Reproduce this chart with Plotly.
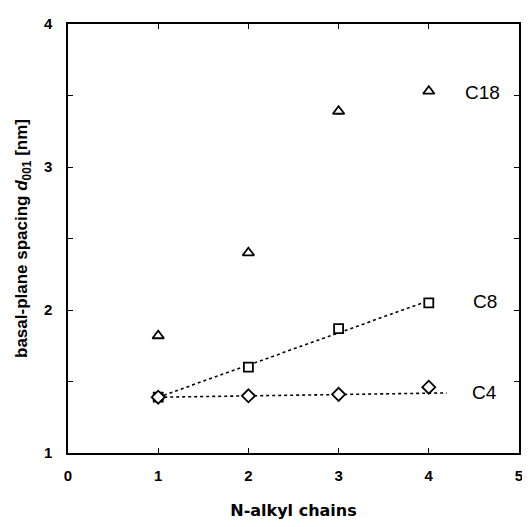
import numpy as np
import plotly.graph_objects as go

chains = [1, 2, 3, 4]
c18 = [1.82, 2.40, 3.39, 3.53]
c8 = [1.39, 1.60, 1.87, 2.05]
c4 = [1.39, 1.40, 1.41, 1.46]
c4_fit_x = [1, 4.2]
c4_fit_y = [1.39, 1.42]
series_labels = ["C18", "C8", "C4"]
label_x = [4.6, 4.62, 4.62]
label_y = [3.52, 2.06, 1.42]
x_ticks = [0, 1, 2, 3, 4, 5]
y_ticks = [1, 2, 3, 4]
y_minor_step = 0.5

# linear fit for C8
p = np.polyfit(chains, c8, 1)
c8_fit_x = [chains[0], chains[-1]]
c8_fit_y = list(np.polyval(p, c8_fit_x))

fig = go.Figure()
dot = dict(color="black", width=1.6, dash="dot")
fig.add_trace(go.Scatter(x=c8_fit_x, y=c8_fit_y, mode="lines", line=dot, showlegend=False))
fig.add_trace(go.Scatter(x=c4_fit_x, y=c4_fit_y, mode="lines", line=dot, showlegend=False))
mk = lambda s, sz: dict(symbol=s, size=sz, color="white", line=dict(color="black", width=1.8))
fig.add_trace(go.Scatter(x=chains, y=c18, mode="markers", marker=mk("triangle-up", 10), showlegend=False))
fig.add_trace(go.Scatter(x=chains, y=c8, mode="markers", marker=mk("square", 9), showlegend=False))
fig.add_trace(go.Scatter(x=chains, y=c4, mode="markers", marker=mk("diamond", 10), showlegend=False))

for t, xx, yy in zip(series_labels, label_x, label_y):
    fig.add_annotation(x=xx, y=yy, text=t, showarrow=False,
                       font=dict(family="Liberation Sans, Arial", size=19, color="black"))

axis_common = dict(showgrid=False, zeroline=False, showline=True, linecolor="black", linewidth=1.5,
                   mirror="ticks", ticks="inside", ticklen=5, tickcolor="black", tickwidth=1.3,
                   ticklabeloverflow="allow",
                   tickfont=dict(family="Liberation Sans, Arial", size=15, color="black", weight="bold"))
fig.update_xaxes(range=[-0.0001, 5.0001], tickvals=x_ticks, ticklabelstandoff=8,
                 title=dict(text="N-alkyl chains", standoff=22,
                            font=dict(family="DejaVu Sans", size=16, color="black", weight="bold")),
                 **axis_common)
fig.update_yaxes(range=[0.9999, 4.0001], tickvals=y_ticks, ticklabelstandoff=11,
                 minor=dict(dtick=y_minor_step, tick0=1, ticks="inside", ticklen=5,
                            tickcolor="black", tickwidth=1.3, showgrid=False),
                 title=dict(text="basal-plane spacing <i>d</i><sub>001</sub> [nm]", standoff=12,
                            font=dict(family="Liberation Sans, Arial", size=17, color="black", weight="bold")),
                 **axis_common)
fig.update_layout(width=522, height=519, margin=dict(l=60, r=7, t=14, b=74),
                  plot_bgcolor="white", paper_bgcolor="white")
fig.write_html("out.html")
